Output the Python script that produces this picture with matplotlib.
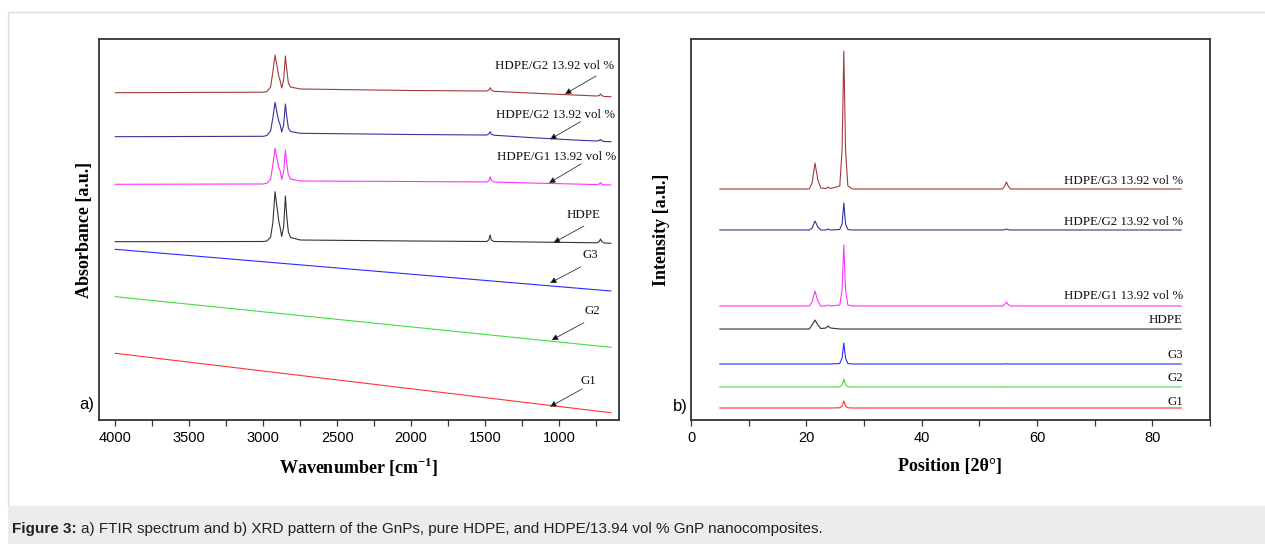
import matplotlib
matplotlib.use("Agg")
import matplotlib.pyplot as plt
from matplotlib.patches import Rectangle
from matplotlib.ticker import MultipleLocator

plt.rcParams['mathtext.fontset'] = 'custom'
plt.rcParams['mathtext.rm'] = 'Liberation Serif'
plt.rcParams['mathtext.bf'] = 'Liberation Serif:bold'

# ---------------- FTIR data (a) ----------------
wn = [4000, 3000, 2975, 2950, 2935, 2920, 2908, 2895, 2885, 2875, 2862, 2850, 2842,
      2830, 2815, 2750, 2000, 1490, 1475, 1466, 1458, 1440, 1200, 900, 745, 728,
      720, 712, 695, 650]
ftir_g3_comp = [3.273, 3.278, 3.285, 3.33, 3.48, 3.65, 3.55, 3.44, 3.39, 3.32, 3.40, 3.64, 3.52,
                3.37, 3.33, 3.31, 3.295, 3.29, 3.30, 3.323, 3.30, 3.287, 3.27, 3.25, 3.24, 3.245,
                3.26, 3.245, 3.235, 3.233]
ftir_g2_comp = [2.833, 2.837, 2.845, 2.89, 3.02, 3.177, 3.08, 2.99, 2.95, 2.88, 2.95, 3.16, 3.05,
                2.92, 2.885, 2.867, 2.855, 2.85, 2.86, 2.883, 2.858, 2.848, 2.825, 2.80, 2.79, 2.795,
                2.805, 2.792, 2.785, 2.783]
ftir_g1_comp = [2.357, 2.36, 2.368, 2.41, 2.55, 2.717, 2.62, 2.53, 2.49, 2.405, 2.48, 2.70, 2.58,
                2.45, 2.41, 2.39, 2.385, 2.38, 2.39, 2.433, 2.395, 2.38, 2.37, 2.36, 2.354, 2.36,
                2.375, 2.36, 2.352, 2.35]
ftir_hdpe = [1.783, 1.785, 1.79, 1.83, 1.97, 2.283, 2.14, 1.99, 1.92, 1.835, 1.93, 2.24, 2.06,
             1.88, 1.825, 1.80, 1.79, 1.785, 1.80, 1.85, 1.80, 1.785, 1.78, 1.775, 1.772, 1.785,
             1.81, 1.785, 1.77, 1.767]
wn_g = [4000, 650]
ftir_g3 = [1.707, 1.29]
ftir_g2 = [1.233, 0.727]
ftir_g1 = [0.667, 0.073]

ftir_labels = ["HDPE/G2 13.92 vol %", "HDPE/G2 13.92 vol %", "HDPE/G1 13.92 vol %",
               "HDPE", "G3", "G2", "G1"]
ftir_label_x = [1028, 1021, 1018, 838, 791, 778, 805]
ftir_label_y = [3.543, 3.05, 2.633, 2.05, 1.65, 1.09, 0.393]
arrow_head_x = [960, 1061, 1068, 1037, 1061, 1050, 1061]
arrow_head_y = [3.26, 2.807, 2.37, 1.773, 1.37, 0.80, 0.133]
arrow_tail_x = [750, 855, 852, 832, 855, 832, 845]
arrow_tail_y = [3.44, 2.983, 2.56, 1.94, 1.53, 0.973, 0.31]

# ---------------- XRD data (b) ----------------
tt = [5, 20.5, 21.0, 21.5, 22.0, 22.5, 23.4, 23.8, 24.2, 25.8, 26.2, 26.5, 26.8, 27.2, 28,
      54.0, 54.4, 54.7, 55.0, 55.4, 85]
xrd_g3_comp = [2.31, 2.31, 2.37, 2.57, 2.40, 2.32, 2.315, 2.33, 2.315, 2.34, 2.70, 3.69, 2.70,
               2.34, 2.31, 2.31, 2.34, 2.38, 2.34, 2.31, 2.31]
xrd_g2_comp = [1.90, 1.90, 1.92, 1.99, 1.93, 1.90, 1.90, 1.91, 1.90, 1.905, 1.96, 2.17, 1.96,
               1.905, 1.90, 1.90, 1.903, 1.91, 1.903, 1.90, 1.90]
xrd_g1_comp = [1.14, 1.14, 1.18, 1.29, 1.19, 1.14, 1.14, 1.15, 1.14, 1.15, 1.30, 1.75, 1.30,
               1.15, 1.14, 1.14, 1.155, 1.18, 1.155, 1.14, 1.14]
xrd_hdpe = [0.91, 0.91, 0.95, 1.00, 0.95, 0.915, 0.92, 0.94, 0.92, 0.91, 0.91, 0.91, 0.91,
            0.91, 0.91, 0.91, 0.91, 0.91, 0.91, 0.91, 0.91]
xrd_g3 = [0.56, 0.56, 0.56, 0.56, 0.56, 0.56, 0.56, 0.56, 0.56, 0.565, 0.62, 0.77, 0.62,
          0.565, 0.56, 0.56, 0.56, 0.562, 0.56, 0.56, 0.56]
xrd_g2 = [0.33, 0.33, 0.33, 0.33, 0.33, 0.33, 0.33, 0.33, 0.33, 0.332, 0.35, 0.41, 0.35,
          0.332, 0.33, 0.33, 0.33, 0.332, 0.33, 0.33, 0.33]
xrd_g1 = [0.12, 0.12, 0.12, 0.12, 0.12, 0.12, 0.12, 0.12, 0.12, 0.122, 0.14, 0.19, 0.14,
          0.122, 0.12, 0.12, 0.12, 0.12, 0.12, 0.12, 0.12]
xrd_labels = ["HDPE/G3 13.92 vol %", "HDPE/G2 13.92 vol %", "HDPE/G1 13.92 vol %",
              "HDPE", "G3", "G2", "G1"]
xrd_label_y = [2.39, 1.983, 1.24, 1.00, 0.65, 0.423, 0.183]

colors = ["#a33a3a", "#34349a", "#ff33ff", "#333333", "#2b2bff", "#44dd44", "#ff3333"]

SERIF = "Liberation Serif"
SANS = "Liberation Sans"

fig = plt.figure(figsize=(12.65, 5.44), dpi=100)
W, H = 1265, 544

# outer frame and caption band
fig.patches.append(Rectangle((8 / W, 38 / H), 1 - 8 / W + 0.01, (506 - 12) / H,
                             transform=fig.transFigure, facecolor='none',
                             edgecolor='#dddddd', lw=1.0))
fig.patches.append(Rectangle((8 / W, 0), 1 - 8 / W + 0.01, 38 / H,
                             transform=fig.transFigure, facecolor='#ececec',
                             edgecolor='none'))

axA = fig.add_axes([99 / W, (H - 420) / H, 520 / W, 381 / H])
axB = fig.add_axes([691 / W, (H - 420) / H, 519 / W, 381 / H])

# ---- panel a
ftir_series = [(wn, ftir_g3_comp), (wn, ftir_g2_comp), (wn, ftir_g1_comp), (wn, ftir_hdpe),
               (wn_g, ftir_g3), (wn_g, ftir_g2), (wn_g, ftir_g1)]
for (x, y), c in zip(ftir_series, colors):
    axA.plot(x, y, color=c, lw=0.8)
for i, lab in enumerate(ftir_labels):
    axA.text(ftir_label_x[i], ftir_label_y[i], lab, ha='center', va='center',
             family=SERIF, fontsize=9.3, color='#111111')
    axA.annotate("", xy=(arrow_head_x[i], arrow_head_y[i]),
                 xytext=(arrow_tail_x[i], arrow_tail_y[i]),
                 arrowprops=dict(arrowstyle='-|>', lw=0.6, color='#555555',
                                 mutation_scale=9, shrinkA=0, shrinkB=0,
                                 fc='black', ec='#333333'))
axA.set_xlim(4110, 595)
axA.set_ylim(0, 3.81)
axA.xaxis.set_major_locator(MultipleLocator(500))
axA.xaxis.set_minor_locator(MultipleLocator(250))
axA.set_xlabel(r"Wavenumber [cm$^{\mathbf{-1}}$]", family=SERIF, fontweight='bold', fontsize=13)
axA.set_ylabel("Absorbance [a.u.]", family=SERIF, fontweight='bold', fontsize=13)
axA.xaxis.set_label_coords(0.5, -(467 - 420) / 381)
axA.xaxis.label.set_verticalalignment('center')
axA.yaxis.set_label_coords((84 - 99) / 520, 0.5)
axA.yaxis.label.set_verticalalignment('center')
axA.text((87 - 99) / 520, (420 - 404) / 381, "a)", transform=axA.transAxes,
         ha='center', va='center', family=SANS, fontsize=12)

# ---- panel b
xrd_series = [xrd_g3_comp, xrd_g2_comp, xrd_g1_comp, xrd_hdpe, xrd_g3, xrd_g2, xrd_g1]
for y, c in zip(xrd_series, colors):
    axB.plot(tt, y, color=c, lw=0.8)
for lab, ly in zip(xrd_labels, xrd_label_y):
    axB.text(85.3, ly, lab, ha='right', va='center', family=SERIF, fontsize=9.3,
             color='#111111')
axB.set_xlim(0, 90)
axB.set_ylim(0, 3.81)
axB.xaxis.set_major_locator(MultipleLocator(20))
axB.xaxis.set_minor_locator(MultipleLocator(10))
axB.set_xlabel("Position [2θ°]", family=SERIF, fontweight='bold', fontsize=13)
axB.set_ylabel("Intensity [a.u.]", family=SERIF, fontweight='bold', fontsize=13)
axB.xaxis.set_label_coords((950 - 691) / 519, -(467 - 420) / 381)
axB.xaxis.label.set_verticalalignment('center')
axB.yaxis.set_label_coords((661 - 691) / 519, 0.5)
axB.yaxis.label.set_verticalalignment('center')
axB.text((680 - 691) / 519, (420 - 406) / 381, "b)", transform=axB.transAxes,
         ha='center', va='center', family=SANS, fontsize=12)

for ax in (axA, axB):
    ax.set_yticks([])
    for s in ax.spines.values():
        s.set_linewidth(1.3)
        s.set_color('#333333')
    ax.tick_params(axis='x', which='both', direction='out', length=4, width=0.9,
                   color='#333333', top=False)
    ax.tick_params(axis='x', which='major', labelsize=10.5, pad=4)
    for t in ax.get_xticklabels():
        t.set_family(SANS)

# caption
fig.text(12 / W, (H - 529) / H, "Figure 3:", ha='left', va='center', family=SANS,
         fontweight='bold', fontsize=11, color='#222222')
fig.text(81 / W, (H - 529) / H,
         "a) FTIR spectrum and b) XRD pattern of the GnPs, pure HDPE, and HDPE/13.94 vol % GnP nanocomposites.",
         ha='left', va='center', family=SANS, fontsize=11, color='#222222')

fig.savefig("out.png", dpi=100)
